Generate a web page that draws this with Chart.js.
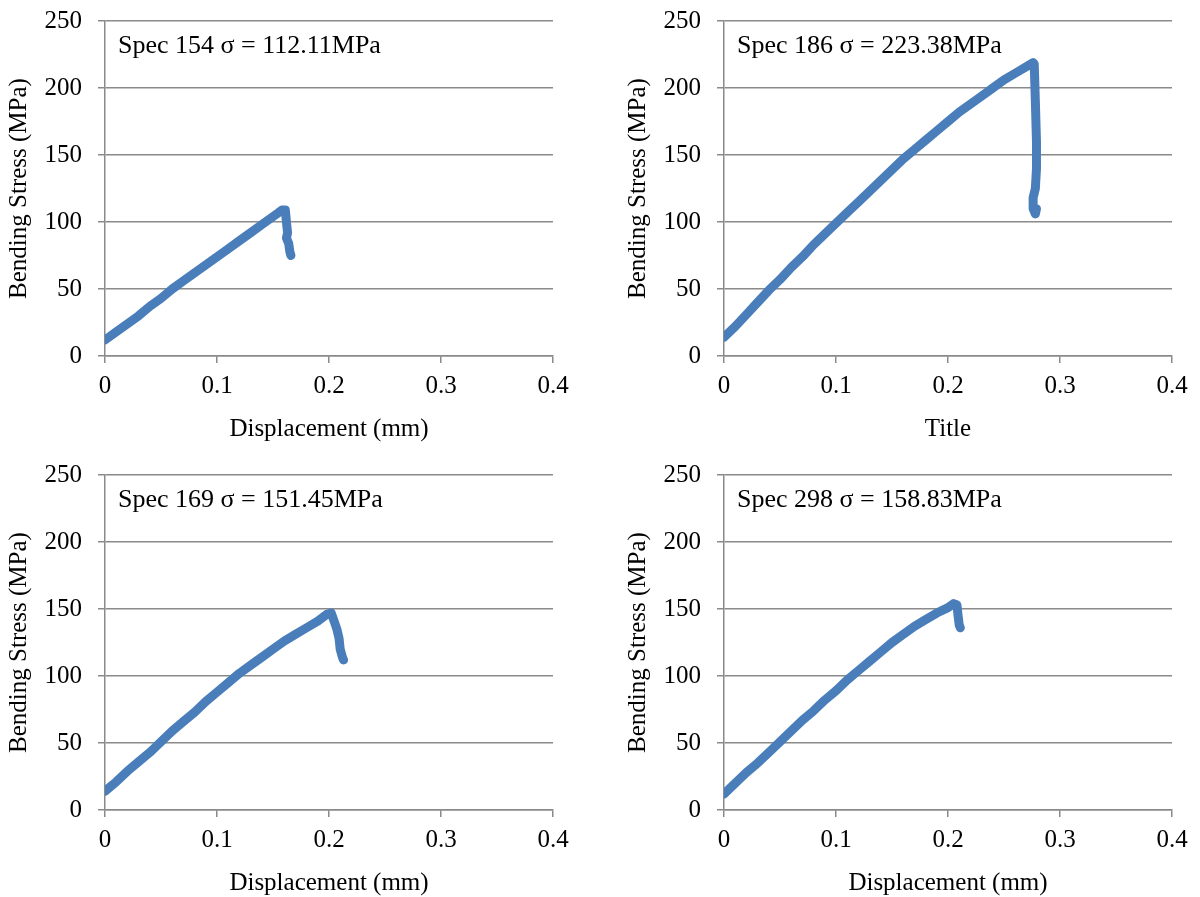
<!DOCTYPE html>
<html>
<head>
<meta charset="utf-8">
<script src="https://cdn.jsdelivr.net/npm/chart.js@4/dist/chart.umd.min.js"></script>
<style>
  body { margin: 0; background: #fff; width: 1200px; height: 897px; position: relative; overflow: hidden; }
  .panel { position: absolute; width: 600px; height: 458px; }
</style>
</head>
<body>
<div class="panel" style="left:0;top:-10px"><canvas id="c1"></canvas></div>
<div class="panel" style="left:619px;top:-10px"><canvas id="c2"></canvas></div>
<div class="panel" style="left:0;top:444px"><canvas id="c3"></canvas></div>
<div class="panel" style="left:619px;top:444px"><canvas id="c4"></canvas></div>
<script>
// tick labels
const xTicks = [0, 0.1, 0.2, 0.3, 0.4];
const yTicks = [0, 50, 100, 150, 200, 250];

// Spec 154
const disp154 = [0, 0.01, 0.02, 0.03, 0.04, 0.05, 0.06, 0.07, 0.08, 0.09, 0.10, 0.11, 0.12, 0.13, 0.14, 0.15, 0.155, 0.158, 0.161, 0.162, 0.163, 0.162, 0.164, 0.165, 0.166];
const stress154 = [12, 18, 24, 30, 37, 43, 50, 56, 62, 68, 74, 80, 86, 92, 98, 104, 107, 109, 109, 100, 92, 88, 84, 78, 75];

// Spec 186
const disp186 = [0, 0.01, 0.02, 0.03, 0.04, 0.05, 0.06, 0.07, 0.08, 0.09, 0.10, 0.11, 0.12, 0.13, 0.14, 0.15, 0.16, 0.17, 0.18, 0.19, 0.20, 0.21, 0.22, 0.23, 0.24, 0.25, 0.26, 0.27, 0.276, 0.277, 0.278, 0.279, 0.279, 0.278, 0.276, 0.276, 0.278, 0.279];
const stress186 = [14, 22, 31, 40, 49, 57, 66, 74, 83, 91, 99, 107, 115, 123, 131, 139, 147, 154, 161, 168, 175, 182, 188, 194, 200, 206, 211, 216, 219, 218, 190, 160, 140, 125, 118, 110, 106, 110];

// Spec 169
const disp169 = [0, 0.01, 0.02, 0.03, 0.04, 0.05, 0.06, 0.07, 0.08, 0.09, 0.10, 0.11, 0.12, 0.13, 0.14, 0.15, 0.16, 0.17, 0.18, 0.19, 0.198, 0.202, 0.205, 0.207, 0.209, 0.21, 0.212, 0.213];
const stress169 = [14, 21, 29, 36, 43, 51, 59, 66, 73, 81, 88, 95, 102, 108, 114, 120, 126, 131, 136, 141, 146, 147, 140, 135, 128, 120, 114, 112];

// Spec 298
const disp298 = [0, 0.01, 0.02, 0.03, 0.04, 0.05, 0.06, 0.07, 0.08, 0.09, 0.10, 0.11, 0.12, 0.13, 0.14, 0.15, 0.16, 0.17, 0.18, 0.19, 0.20, 0.205, 0.208, 0.209, 0.210, 0.211];
const stress298 = [12, 20, 28, 35, 43, 51, 59, 67, 74, 82, 89, 97, 104, 111, 118, 125, 131, 137, 142, 147, 151, 154, 153, 145, 138, 136];

const labels = ["Spec 154 σ = 112.11MPa", "Spec 186 σ = 223.38MPa", "Spec 169 σ = 151.45MPa", "Spec 298 σ = 158.83MPa"];
const xTitles = ["Displacement (mm)", "Title", "Displacement (mm)", "Displacement (mm)"];

const FONT = "'Liberation Serif', 'Times New Roman', serif";
const GRID = "#8a8a8a";
const LINE = "#4a7ebb";

const noteLabel = {
  id: "noteLabel",
  afterDraw(chart, args, opts) {
    const ctx = chart.ctx;
    const a = chart.chartArea;
    ctx.save();
    ctx.font = "26px " + FONT;
    ctx.fillStyle = "#000";
    ctx.textBaseline = "middle";
    ctx.fillText(opts.text, a.left + 13, a.top + 25);
    ctx.restore();
  }
};

function makeChart(id, xs, ys, note, xTitle) {
  const pts = xs.map((x, i) => ({ x: x, y: ys[i] }));
  new Chart(document.getElementById(id), {
    type: "scatter",
    data: {
      datasets: [{
        data: pts,
        showLine: true,
        borderColor: LINE,
        backgroundColor: LINE,
        borderWidth: 9,
        pointRadius: 0,
        borderJoinStyle: "round",
        borderCapStyle: "round",
        tension: 0,
      }]
    },
    options: {
      responsive: false,
      animation: false,
      layout: { padding: { top: 12, right: 47, left: 0, bottom: 0 } },
      plugins: { legend: { display: false }, tooltip: { enabled: false }, noteLabel: { text: note } },
      scales: {
        x: {
          type: "linear",
          min: 0, max: 0.4,
          afterBuildTicks: (s) => { s.ticks = xTicks.map(v => ({ value: v })); },
          afterFit: (s) => { s.height = 92; },
          grid: { drawOnChartArea: false, drawTicks: true, tickLength: 7, color: GRID, lineWidth: 1.5 },
          border: { color: GRID, width: 1.5 },
          ticks: {
            color: "#000", padding: 8,
            font: { family: FONT, size: 25 },
            callback: (v) => String(Number(v.toFixed(1)))
          },
          title: { display: true, text: xTitle, color: "#000", font: { family: FONT, size: 25 }, padding: { top: 4, bottom: 4 } }
        },
        y: {
          min: 0, max: 250,
          afterBuildTicks: (s) => { s.ticks = yTicks.map(v => ({ value: v })); },
          afterFit: (s) => { s.width = 105; },
          grid: { drawTicks: true, tickLength: 7, color: GRID, lineWidth: 1.5 },
          border: { color: GRID, width: 1.5 },
          ticks: { color: "#000", padding: 16, font: { family: FONT, size: 25 } },
          title: { display: true, text: "Bending Stress (MPa)", color: "#000", font: { family: FONT, size: 25 }, padding: { top: 4, bottom: 0 } }
        }
      }
    },
    plugins: [noteLabel]
  });
}

["c1", "c2", "c3", "c4"].forEach(id => {
  const c = document.getElementById(id);
  c.width = 600; c.height = 458;
});

makeChart("c1", disp154, stress154, labels[0], xTitles[0]);
makeChart("c2", disp186, stress186, labels[1], xTitles[1]);
makeChart("c3", disp169, stress169, labels[2], xTitles[2]);
makeChart("c4", disp298, stress298, labels[3], xTitles[3]);
</script>
</body>
</html>
